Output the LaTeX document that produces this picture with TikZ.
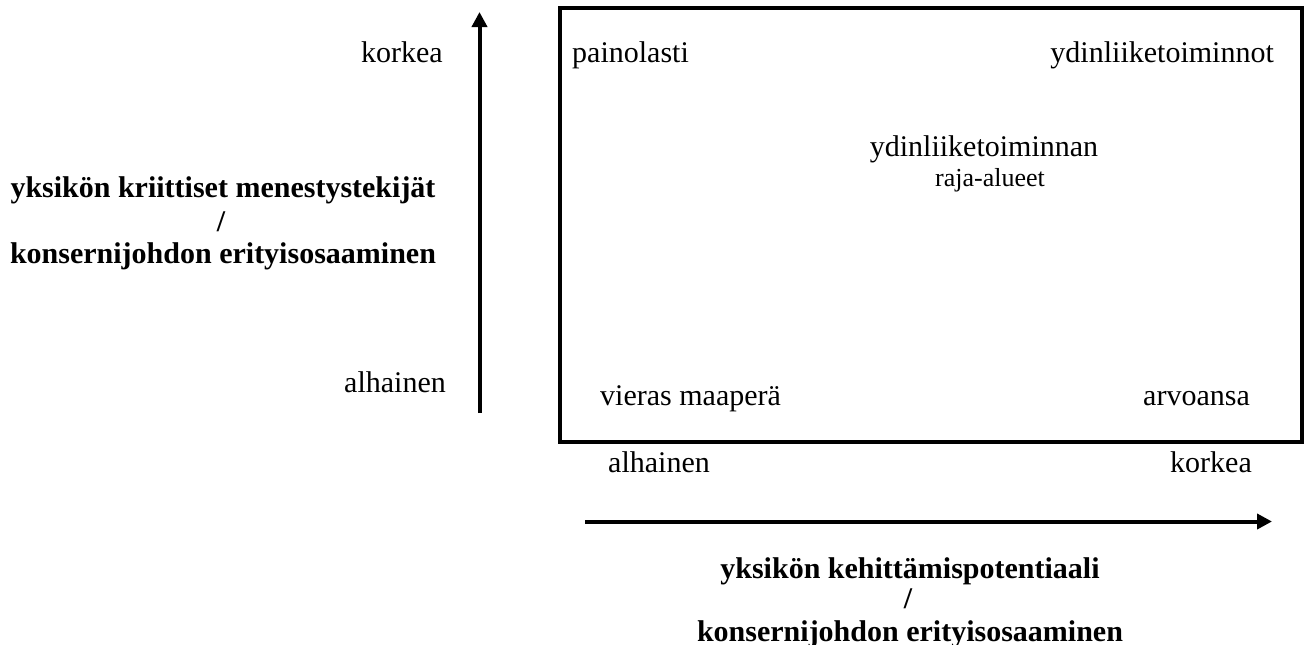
\documentclass[tikz,border=0pt]{standalone}
\usepackage{fontspec}
\setmainfont{Liberation Serif}
\usetikzlibrary{arrows.meta}

\tikzset{
  lbl/.style={inner sep=0pt, font=\fontsize{30}{34}\selectfont},
  small/.style={inner sep=0pt, font=\fontsize{26}{30}\selectfont},
  title/.style={inner sep=0pt, font=\fontsize{30}{34}\selectfont\bfseries},
  axis/.style={line width=4pt, -{Triangle[length=15pt,width=15pt]}},
  frame/.style={draw, line width=3.5pt}
}

\begin{document}
\begin{tikzpicture}[x=1pt, y=-1pt]
  \useasboundingbox (0,0) rectangle (1309,645);

  % vertical axis with its end labels
  \node[lbl, anchor=base east] (yhigh) at (443,62) {korkea};
  \node[lbl, anchor=base east] (ylow) at (446,392) {alhainen};
  \coordinate (ybot) at (479.5,413);
  \coordinate (ytop) at (479.5,12);
  \draw[axis] (ybot) -- (ytop);

  % vertical axis title
  \node[title, anchor=base] (yt1) at (223,197) {yksikön kriittiset menestystekijät};
  \node[title, anchor=base] (yt2) at (221,231) {/};
  \node[title, anchor=base] (yt3) at (223,263) {konsernijohdon erityisosaaminen};

  % the matrix frame
  \node[frame, anchor=north west, minimum width=742pt, minimum height=434pt, inner sep=0pt] (grid) at (558,6) {};

  % quadrant labels
  \node[lbl, anchor=base west] (q1) at (572,62) {painolasti};
  \node[lbl, anchor=base east] (q2) at (1274,62) {ydinliiketoiminnot};
  \node[lbl, anchor=base] (q3) at (984,156) {ydinliiketoiminnan};
  \node[small, anchor=base] (q3b) at (990,186) {raja-alueet};
  \node[lbl, anchor=base west] (q4) at (600,405) {vieras maaperä};
  \node[lbl, anchor=base east] (q5) at (1250,405) {arvoansa};

  % horizontal axis with its end labels
  \node[lbl, anchor=base west] (xlow) at (608,472) {alhainen};
  \node[lbl, anchor=base east] (xhigh) at (1252,472) {korkea};
  \coordinate (xleft) at (585,521.5);
  \coordinate (xright) at (1272,521.5);
  \draw[axis] (xleft) -- (xright);

  % horizontal axis title
  \node[title, anchor=base] (xt1) at (910,578) {yksikön kehittämispotentiaali};
  \node[title, anchor=base] (xt2) at (908,608) {/};
  \node[title, anchor=base] (xt3) at (910,641) {konsernijohdon erityisosaaminen};
\end{tikzpicture}
\end{document}
